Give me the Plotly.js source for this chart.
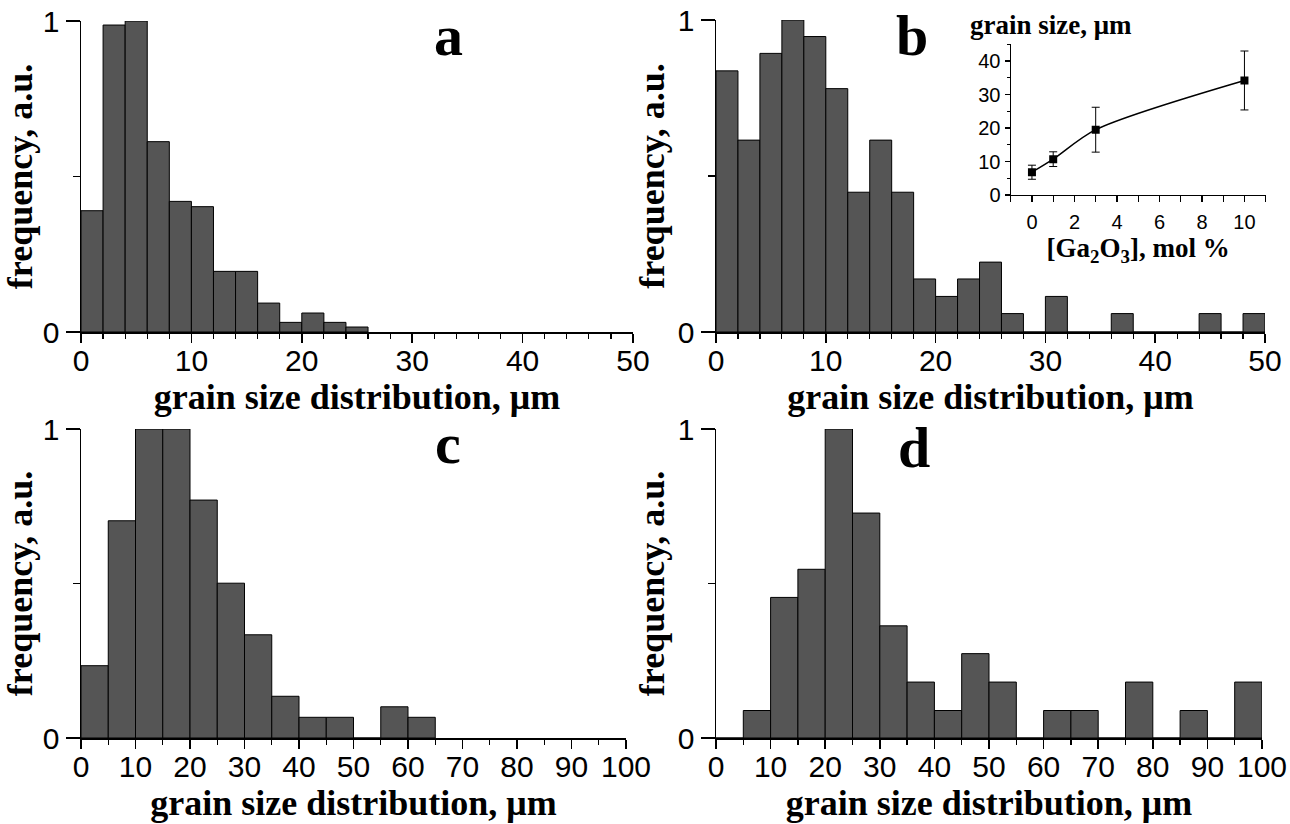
<!DOCTYPE html>
<html>
<head>
<meta charset="utf-8">
<script src="https://cdn.plot.ly/plotly-3.0.1.min.js"></script>
<style>html,body{margin:0;padding:0;background:#fff}#chart{width:1290px;height:824px}</style>
</head>
<body>
<div id="chart"></div>
<script>
// ---- data ----
const aBinCenters = [1,3,5,7,9,11,13,15,17,19,21,23,25];
const aFreq = [0.39,0.987,1.0,0.612,0.42,0.403,0.195,0.195,0.093,0.031,0.061,0.031,0.016];

const bBinCenters = [1,3,5,7,9,11,13,15,17,19,21,23,25,27,29,31,33,35,37,39,41,43,45,47,49];
const bFreq = [0.837,0.615,0.893,1.0,0.947,0.78,0.448,0.615,0.448,0.17,0.114,0.17,0.224,0.059,0,0.114,0,0,0.059,0,0,0,0.059,0,0.059];

const cBinCenters = [2.5,7.5,12.5,17.5,22.5,27.5,32.5,37.5,42.5,47.5,52.5,57.5,62.5];
const cFreq = [0.234,0.703,1.0,1.0,0.77,0.501,0.334,0.135,0.067,0.067,0,0.101,0.067];

const dBinCenters = [2.5,7.5,12.5,17.5,22.5,27.5,32.5,37.5,42.5,47.5,52.5,57.5,62.5,67.5,72.5,77.5,82.5,87.5,92.5,97.5];
const dFreq = [0,0.089,0.455,0.546,1.0,0.728,0.363,0.181,0.089,0.273,0.181,0,0.089,0.089,0,0.181,0,0.089,0,0.181];

const ga2o3Conc = [0,1,3,10];
const meanGrainSize = [6.8,10.7,19.5,34.2];
const grainSizeErr = [2.1,2.2,6.7,8.8];

const panelLetters = ['a','b','c','d'];
const xTitle = 'grain size distribution, μm';
const yTitle = 'frequency, a.u.';

// ---- styles ----
const W = 1290, H = 824;
const serif = 'Liberation Serif, Times New Roman, serif';
const sans = 'Liberation Sans, Arial, sans-serif';
const barColor = '#555555';

function bar(x, y, w, xa, ya){
  return {type:'bar', x:x, y:y, width:w, xaxis:xa, yaxis:ya,
    marker:{color:barColor, line:{color:'#000', width:1}}, hoverinfo:'skip', showlegend:false};
}
const traces = [
  bar(aBinCenters, aFreq, 2, 'x', 'y'),
  bar(bBinCenters, bFreq, 2, 'x2', 'y2'),
  bar(cBinCenters, cFreq, 5, 'x3', 'y3'),
  bar(dBinCenters, dFreq, 5, 'x4', 'y4'),
  {type:'scatter', mode:'lines+markers', x:ga2o3Conc, y:meanGrainSize, xaxis:'x5', yaxis:'y5',
   line:{color:'#000', width:1.5, shape:'spline', smoothing:0.8},
   marker:{symbol:'square', size:8, color:'#000'},
   error_y:{type:'data', array:grainSizeErr, visible:true, color:'#000', thickness:1, width:4},
   showlegend:false, hoverinfo:'skip'}
];

function px2fx(p){return p/W;}
function px2fy(p){return 1 - p/H;}

function xAxis(l, r, maxV, minorStep, anchor){
  return {domain:[px2fx(l), px2fx(r)], range:[0, maxV], anchor:anchor,
    showline:true, linecolor:'#000', linewidth:1.5, showgrid:false, zeroline:false,
    ticks:'outside', ticklen:9, tickwidth:1.5, tickcolor:'#000', dtick:10, tick0:0,
    ticklabelstandoff:-8,
    minor:{dtick:minorStep, tick0:0, ticks:'outside', ticklen:5, tickwidth:1.2, tickcolor:'#000', showgrid:false},
    tickfont:{family:sans, size:30, color:'#000'},
    title:{text:xTitle, font:{family:serif, size:36, weight:'bold', color:'#000'}, standoff:8},
    fixedrange:true};
}
function yAxis(t, b, anchor){
  return {domain:[px2fy(b), px2fy(t)], range:[0,1], anchor:anchor,
    showline:true, linecolor:'#000', linewidth:1.5, showgrid:false, zeroline:false,
    ticks:'outside', ticklen:14, tickwidth:1.5, tickcolor:'#000', tickvals:[0,1], ticktext:['0','1'],
    minor:{tickvals:[0.5], ticks:'outside', ticklen:7, tickwidth:1.2, tickcolor:'#000', showgrid:false},
    tickfont:{family:sans, size:30, color:'#000'},
    title:{text:yTitle, font:{family:serif, size:36, weight:'bold', color:'#000'}, standoff:2},
    fixedrange:true};
}

function letter(txt, x, y){
  return {text:txt, xref:'paper', yref:'paper', x:px2fx(x), y:px2fy(y), xanchor:'center', yanchor:'middle',
    showarrow:false, font:{family:serif, size:58, weight:'bold', color:'#000'}};
}

const layout = {
  width:W, height:H, margin:{l:0,r:0,t:0,b:0},
  paper_bgcolor:'#fff', plot_bgcolor:'rgba(0,0,0,0)',
  bargap:0, showlegend:false,
  xaxis: xAxis(81, 633, 50, 2, 'y'),
  yaxis: yAxis(21, 332, 'x'),
  xaxis2: xAxis(716, 1265, 50, 2, 'y2'),
  yaxis2: yAxis(20, 332, 'x2'),
  xaxis3: xAxis(81, 626, 100, 5, 'y3'),
  yaxis3: yAxis(429, 738, 'x3'),
  xaxis4: xAxis(716, 1262, 100, 5, 'y4'),
  yaxis4: yAxis(429, 738, 'x4'),
  xaxis5: {domain:[px2fx(1010.7), px2fx(1265.7)], range:[-1, 11], anchor:'y5',
    showline:true, linecolor:'#000', linewidth:1.2, showgrid:false, zeroline:false,
    ticks:'outside', ticklen:6, tickwidth:1.2, tickcolor:'#000', dtick:2, tick0:0,
    ticklabelstandoff:3,
    minor:{dtick:1, tick0:0, ticks:'outside', ticklen:6, tickwidth:1.2, tickcolor:'#000', showgrid:false},
    tickfont:{family:sans, size:20, color:'#000'},
    title:{text:'[Ga<sub>2</sub>O<sub>3</sub>], mol %', font:{family:serif, size:27, weight:'bold', color:'#000'}, standoff:0},
    fixedrange:true},
  yaxis5: {domain:[px2fy(195), px2fy(44.3)], range:[0, 45], anchor:'x5',
    showline:true, linecolor:'#000', linewidth:1.2, showgrid:false, zeroline:false,
    ticks:'outside', ticklen:5, tickwidth:1.2, tickcolor:'#000', dtick:10, tick0:0,
    minor:{dtick:5, tick0:0, ticks:'outside', ticklen:3, tickwidth:1, tickcolor:'#000', showgrid:false},
    tickfont:{family:sans, size:20, color:'#000'},
    fixedrange:true},
  annotations:[
    letter(panelLetters[0], 448, 35),
    letter(panelLetters[1], 912, 35),
    letter(panelLetters[2], 448, 443),
    letter(panelLetters[3], 914, 447),
    {text:'grain size, μm', xref:'paper', yref:'paper', x:px2fx(968), y:px2fy(25), xanchor:'left', yanchor:'middle',
     showarrow:false, font:{family:serif, size:27, weight:'bold', color:'#000'}}
  ]
};

Plotly.newPlot('chart', traces, layout, {staticPlot:true, displayModeBar:false});
</script>
</body>
</html>
